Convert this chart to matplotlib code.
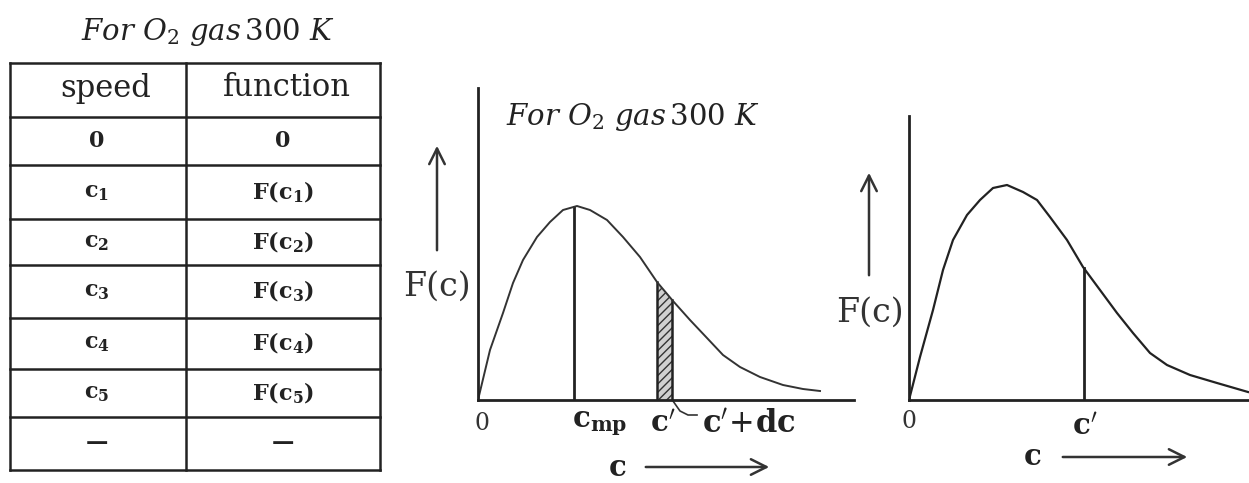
import matplotlib.pyplot as plt
import numpy as np

plt.rcParams['font.family'] = 'DejaVu Serif'
plt.rcParams['mathtext.fontset'] = 'dejavuserif'

# table contents
speed_col = ['0', r'$\mathbf{c_1}$', r'$\mathbf{c_2}$', r'$\mathbf{c_3}$',
             r'$\mathbf{c_4}$', r'$\mathbf{c_5}$', '—']
func_col = ['0', r'$\mathbf{F(c_1)}$', r'$\mathbf{F(c_2)}$', r'$\mathbf{F(c_3)}$',
            r'$\mathbf{F(c_4)}$', r'$\mathbf{F(c_5)}$', '—']
headers = ['speed', 'function']

# distribution curve, middle panel (speed c, F(c))
mid_c = [0.0, 0.12, 0.25, 0.35, 0.45, 0.59, 0.72, 0.85, 0.99, 1.12, 1.29,
         1.45, 1.62, 1.79, 1.95, 2.12, 2.29, 2.45, 2.62, 2.82, 3.05, 3.25, 3.42]
mid_F = [0.0, 0.50, 0.87, 1.17, 1.40, 1.63, 1.78, 1.90, 1.94, 1.90, 1.80,
         1.63, 1.43, 1.18, 0.99, 0.80, 0.62, 0.45, 0.33, 0.23, 0.15, 0.11, 0.09]
c_mp = 0.96
c_prime = 1.79
c_prime_dc = 1.94

# distribution curve, right panel
right_c = [0.0, 0.11, 0.24, 0.34, 0.44, 0.58, 0.71, 0.84, 0.98, 1.14, 1.28,
           1.41, 1.58, 1.74, 1.91, 2.08, 2.24, 2.41, 2.58, 2.81, 3.08, 3.39]
right_F = [0.0, 0.43, 0.90, 1.30, 1.60, 1.85, 2.00, 2.12, 2.15, 2.08, 2.00,
           1.83, 1.60, 1.33, 1.10, 0.87, 0.67, 0.47, 0.35, 0.25, 0.17, 0.08]
right_c_prime = 1.75

title_txt = r'$\mathit{For}\ O_2\ \mathit{gas}\,$300 $K$'
ink = '#222222'

W, H = 1249, 483
fig = plt.figure(figsize=(W / 100, H / 100), dpi=100)

# full-figure layer in pixel units for the table and free labels
base = fig.add_axes([0, 0, 1, 1])
base.set_xlim(0, W)
base.set_ylim(H, 0)
base.axis('off')

# --- table ---
row_lines = [63, 117, 165, 219, 265, 318, 369, 417, 470]
col_lines = [10, 186, 380]
for y in row_lines:
    base.plot([col_lines[0], col_lines[-1]], [y, y], color=ink, lw=1.8)
for x in col_lines:
    base.plot([x, x], [row_lines[0], row_lines[-1]], color=ink, lw=1.8)

base.text(208, 32, title_txt, ha='center', va='center', fontsize=21, color=ink)
base.text(106, 88, headers[0], ha='center', va='center', fontsize=22, color=ink)
base.text(287, 88, headers[1], ha='center', va='center', fontsize=22, color=ink)
for i, (s, f) in enumerate(zip(speed_col, func_col)):
    yc = (row_lines[i + 1] + row_lines[i + 2]) / 2
    base.text(97, yc, s, ha='center', va='center', fontsize=16, color=ink,
              fontweight='bold')
    base.text(283, yc, f, ha='center', va='center', fontsize=16, color=ink,
              fontweight='bold')


def panel(rect, xmax, ymax):
    ax = fig.add_axes([rect[0] / W, 1 - rect[3] / H, (rect[2] - rect[0]) / W,
                       (rect[3] - rect[1]) / H])
    ax.set_xlim(0, xmax)
    ax.set_ylim(0, ymax)
    for side in ['top', 'right']:
        ax.spines[side].set_visible(False)
    for side in ['left', 'bottom']:
        ax.spines[side].set_linewidth(2)
        ax.spines[side].set_color(ink)
    ax.set_xticks([])
    ax.set_yticks([])
    ax.patch.set_alpha(0)
    return ax


arrow = dict(arrowstyle='->', lw=1.8, color='#333333', mutation_scale=28)

# --- middle panel ---
ax1 = panel((478, 88, 854, 400), 3.76, 3.12)
F_mp = np.interp(c_mp, mid_c, mid_F)
ax1.plot([c_mp, c_mp], [0, F_mp], color=ink, lw=2)
cs = np.linspace(c_prime, c_prime_dc, 20)
ax1.fill_between(cs, 0, np.interp(cs, mid_c, mid_F), facecolor='#d0d0d0',
                 edgecolor='#333333', hatch='////', lw=0)
for cv in (c_prime, c_prime_dc):
    ax1.plot([cv, cv], [0, np.interp(cv, mid_c, mid_F)], color=ink, lw=1.8)
ax1.plot(mid_c, mid_F, color='#333333', lw=1.4)

base.text(633, 117, title_txt, ha='center', va='center', fontsize=21, color=ink)
base.annotate('', xy=(437, 143), xytext=(437, 253), arrowprops=arrow)
base.text(437, 287, 'F(c)', ha='center', va='center', fontsize=24, color='#333333')
base.text(482, 424, '0', ha='center', va='center', fontsize=17, color='#333333')
base.text(600, 424, r'$\mathbf{c}_{\mathbf{mp}}$', ha='center', va='center',
          fontsize=21, color=ink)
base.text(663, 424, r"$\mathbf{c}'$", ha='center', va='center', fontsize=21,
          color=ink)
base.text(749, 424, r"$\mathbf{c}'\!+\!\mathbf{dc}$", ha='center', va='center',
          fontsize=22, color=ink)
base.plot([673, 680, 688, 697], [401, 411, 415, 415], color='#333333', lw=1.2)
base.text(617, 468, r'$\mathbf{c}$', ha='center', va='center', fontsize=21,
          color=ink)
base.annotate('', xy=(772, 467), xytext=(643, 467), arrowprops=arrow)

# --- right panel ---
ax2 = panel((909, 116, 1249, 400), 3.40, 2.84)
ax2.plot(right_c, right_F, color=ink, lw=1.6)
ax2.plot([right_c_prime, right_c_prime],
         [0, np.interp(right_c_prime, right_c, right_F)], color=ink, lw=2)

base.annotate('', xy=(869, 170), xytext=(869, 278), arrowprops=arrow)
base.text(870, 313, 'F(c)', ha='center', va='center', fontsize=24, color='#333333')
base.text(909, 421, '0', ha='center', va='center', fontsize=17, color='#333333')
base.text(1085, 427, r"$\mathbf{c}'$", ha='center', va='center', fontsize=21,
          color=ink)
base.text(1032, 457, r'$\mathbf{c}$', ha='center', va='center', fontsize=21,
          color=ink)
base.annotate('', xy=(1190, 457), xytext=(1060, 457), arrowprops=arrow)

fig.savefig('out.png', dpi=100)
